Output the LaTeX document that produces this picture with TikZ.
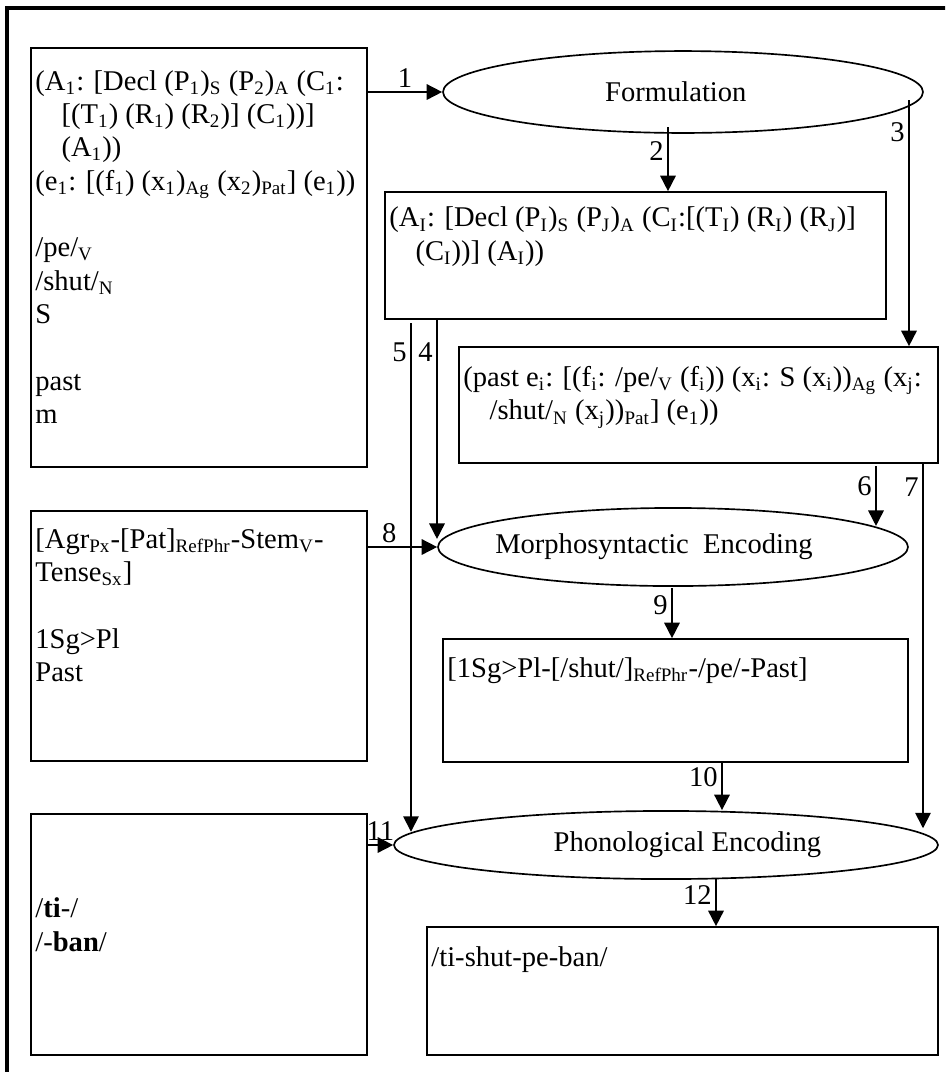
\documentclass[tikz,border=0pt]{standalone}
\usepackage{fontspec}
\setmainfont{Liberation Serif}
\usetikzlibrary{shapes.geometric,arrows.meta,fit,calc}
\tikzset{>={Triangle[length=6.5pt,width=6.5pt]}}
\tikzset{
  panel/.style={draw, line width=0.7pt, inner sep=0pt},
  stage/.style={draw, ellipse, line width=0.7pt, inner sep=0pt},
  paneltext/.style={anchor=north west, inner sep=0pt, align=left},
  numlab/.style={inner sep=1.5pt},
  flow/.style={->, line width=0.7pt}
}

\begin{document}
\begin{tikzpicture}[x=0.42pt, y=-0.42pt, font=\fontsize{12}{14}\selectfont]
      \useasboundingbox (0,0) rectangle (945,1072);
      \clip (0,0) rectangle (945,1072);
      \draw[line width=1.3pt] (7,8) rectangle (970,1100);

      % lexicon and template boxes on the left
      \node[panel, fit={(31,48) (367,467)}] (lex) {};
      \node[panel, fit={(31,511) (367,761)}] (morphlex) {};
      \node[panel, fit={(31,814) (367,1055)}] (phonlex) {};

      % representations on the right
      \node[panel, fit={(385,192) (886,319)}] (ilstruct) {};
      \node[panel, fit={(459,347) (938,463)}] (rlstruct) {};
      \node[panel, fit={(443,639) (908,762)}] (morphstruct) {};
      \node[panel, fit={(427,927) (938,1055)}] (phonstruct) {};

      % the three operations
      \node[stage, minimum width=201.6pt, minimum height=34.4pt,
        label={[xshift=-3pt]center:Formulation}
      ] (form) at (683,92) {};
      \node[stage, minimum width=197.4pt, minimum height=32.8pt,
        label={[xshift=-8pt]center:Morphosyntactic\ \ Encoding}
      ] (morph) at (673,547) {};
      \node[stage, minimum width=228.5pt, minimum height=28.6pt,
        label={[xshift=9pt]center:Phonological Encoding}
      ] (phonol) at (666,845) {};

      % box contents
      \node[paneltext] at ([xshift=2pt,yshift=-8pt]lex.north west) {\strut
        (A\textsubscript{1}: [Decl (P\textsubscript{1})\textsubscript{S} (P\textsubscript{2})\textsubscript{A} (C\textsubscript{1}:\\
        \hspace*{11pt}[(T\textsubscript{1}) (R\textsubscript{1}) (R\textsubscript{2})] (C\textsubscript{1}))]\\
        \hspace*{11pt}(A\textsubscript{1}))\\
        (e\textsubscript{1}: [(f\textsubscript{1}) (x\textsubscript{1})\textsubscript{Ag} (x\textsubscript{2})\textsubscript{Pat}] (e\textsubscript{1}))\\[14pt]
        /pe/\textsubscript{V}\\
        /shut/\textsubscript{N}\\
        S\\[14pt]
        past\\
        m};
      \node[paneltext] at ([xshift=2pt,yshift=-6pt]morphlex.north west) {\strut
        [Agr\textsubscript{Px}-[Pat]\textsubscript{RefPhr}-Stem\textsubscript{V}-\\
        Tense\textsubscript{Sx}]\\[14pt]
        1Sg>Pl\\
        Past};
      \node[paneltext] at ([xshift=2pt,yshift=-6pt]phonlex.north west) {\strut
        \\[14pt]
        /\textbf{ti}-/\\
        /-\textbf{ban}/};
      \node[paneltext] at ([xshift=2pt,yshift=-5pt]ilstruct.north west) {\strut
        (A\textsubscript{I}: [Decl (P\textsubscript{I})\textsubscript{S} (P\textsubscript{J})\textsubscript{A} (C\textsubscript{I}:[(T\textsubscript{I}) (R\textsubscript{I}) (R\textsubscript{J})]\\
        \hspace*{11pt}(C\textsubscript{I}))] (A\textsubscript{I}))};
      \node[paneltext] at ([xshift=2pt,yshift=-7pt]rlstruct.north west) {\strut
        (past e\textsubscript{i}: [(f\textsubscript{i}: /pe/\textsubscript{V} (f\textsubscript{i})) (x\textsubscript{i}: S (x\textsubscript{i}))\textsubscript{Ag} (x\textsubscript{j}:\\
        \hspace*{11pt}/shut/\textsubscript{N} (x\textsubscript{j}))\textsubscript{Pat}] (e\textsubscript{1}))};
      \node[paneltext] at ([xshift=2pt,yshift=-6.5pt]morphstruct.north west) {\strut
        [1Sg>Pl-[/shut/]\textsubscript{RefPhr}-/pe/-Past]};
      \node[paneltext] at ([xshift=2pt,yshift=-7pt]phonstruct.north west) {\strut
        /ti-shut-pe-ban/};

      % connectors
      \coordinate (s2) at (668,127);
      \coordinate (s3) at (909,100);
      \coordinate (s4) at (437,319);
      \coordinate (s5) at (411,323);
      \coordinate (s6) at (876,466);
      \coordinate (s7) at (923,463);
      \coordinate (s9) at (672,588);
      \coordinate (s10) at (722,763);
      \coordinate (s12) at (716,879);

      \draw[flow] (lex.east |- form.west) -- node[numlab, above, pos=0.5] {1} (form.west);
      \draw[flow] (s2) -- node[numlab, left, pos=0.37] {2} (s2 |- ilstruct.north);
      \draw[flow] (s3) -- node[numlab, left, pos=0.13] {3} (s3 |- rlstruct.north);
      \draw[flow] (s4) -- node[numlab, left, pos=0.15] {4} (s4 |- morph.178);
      \draw[flow] (s5) -- node[numlab, left, pos=0.057] {5} (s5 |- phonol.177);
      \draw[flow] (s6) -- node[numlab, left, pos=0.34] {6} (s6 |- morph.6);
      \draw[flow] (s7) -- node[numlab, left, pos=0.066] {7} (s7 |- phonol.4);
      \draw[flow] (morphlex.east |- morph.west) -- node[numlab, above, pos=0.31] {8} (morph.west);
      \draw[flow] (s9) -- node[numlab, left, pos=0.34] {9} (s9 |- morphstruct.north);
      \draw[flow] (s10) -- node[numlab, left, pos=0.3] {10} (s10 |- phonol.north);
      \draw[flow] (phonlex.east |- phonol.west) -- node[numlab, above, pos=0.5] {11} (phonol.west);
      \draw[flow] (s12) -- node[numlab, left, pos=0.33] {12} (s12 |- phonstruct.north);
    \end{tikzpicture}
\end{document}
